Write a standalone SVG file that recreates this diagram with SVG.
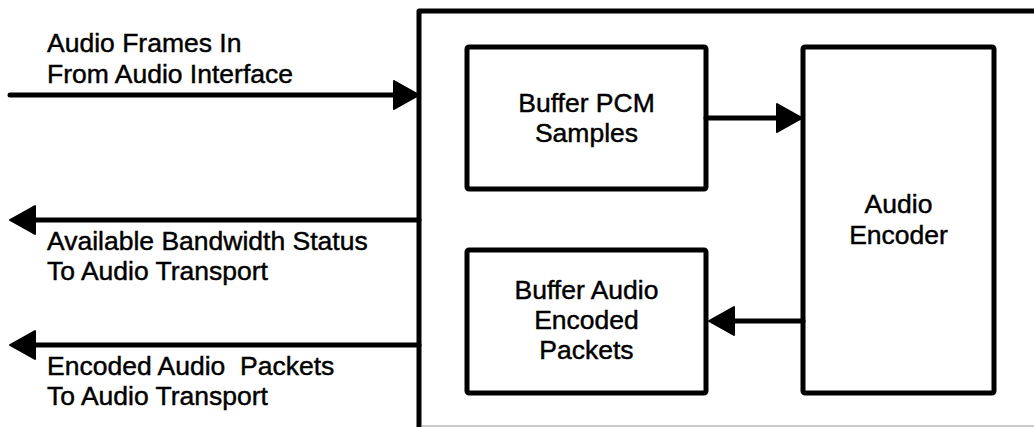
<svg xmlns="http://www.w3.org/2000/svg" width="1034" height="427" viewBox="0 0 1034 427">
  <style>
    .box { fill: #ffffff; stroke: #000000; stroke-width: 5; stroke-linejoin: round; }
    .conn { fill: none; stroke: #000000; stroke-width: 5; stroke-linecap: round; }
    .lbl { font-family: "Liberation Sans", Arial, sans-serif; font-size: 26.5px; fill: #000000; stroke: #000000; stroke-width: 0.45; }
    .ctr { text-anchor: middle; }
  </style>
  <defs>
    <marker id="arrow" markerUnits="userSpaceOnUse" viewBox="0 0 32 32" markerWidth="32" markerHeight="32" refX="24" refY="16" orient="auto">
      <path d="M3,2 L28,16 L3,30 Z" fill="#000000" stroke="#000000" stroke-width="2" stroke-linejoin="round"/>
    </marker>
  </defs>
  <rect width="1034" height="427" fill="#ffffff"/>

  <g id="outer">
    <rect class="box" x="419" y="11" width="630" height="430"/>
    <line x1="422" y1="426" x2="1034" y2="426" stroke="#9a9a9a" stroke-width="1.2"/>
  </g>

  <g id="buffer-pcm">
    <rect class="box" x="467" y="47" width="239" height="142" rx="2"/>
    <text class="lbl ctr" x="586.5" y="112">Buffer PCM</text>
    <text class="lbl ctr" x="586.5" y="142">Samples</text>
  </g>

  <g id="buffer-audio">
    <rect class="box" x="467" y="250" width="239" height="143" rx="2"/>
    <text class="lbl ctr" x="586.5" y="299">Buffer Audio</text>
    <text class="lbl ctr" x="586.5" y="329">Encoded</text>
    <text class="lbl ctr" x="586.5" y="359">Packets</text>
  </g>

  <g id="audio-encoder">
    <rect class="box" x="803" y="47" width="191" height="346" rx="2"/>
    <text class="lbl ctr" x="898.5" y="213">Audio</text>
    <text class="lbl ctr" x="898.5" y="244">Encoder</text>
  </g>

  <g id="connectors">
    <line class="conn" x1="10" y1="95" x2="415" y2="95" marker-end="url(#arrow)"/>
    <line class="conn" x1="706" y1="118" x2="798" y2="118" marker-end="url(#arrow)"/>
    <line class="conn" x1="803" y1="321" x2="713" y2="321" marker-end="url(#arrow)"/>
    <line class="conn" x1="419" y1="220" x2="14" y2="220" marker-end="url(#arrow)"/>
    <line class="conn" x1="419" y1="345" x2="14" y2="345" marker-end="url(#arrow)"/>
  </g>

  <g id="labels">
    <text class="lbl" x="47" y="52">Audio Frames In</text>
    <text class="lbl" x="47" y="83">From Audio Interface</text>
    <text class="lbl" x="47" y="250" xml:space="preserve">Available Bandwidth Status</text>
    <text class="lbl" x="47" y="280">To Audio Transport</text>
    <text class="lbl" x="47" y="375" xml:space="preserve">Encoded Audio  Packets</text>
    <text class="lbl" x="47" y="405">To Audio Transport</text>
  </g>
</svg>
